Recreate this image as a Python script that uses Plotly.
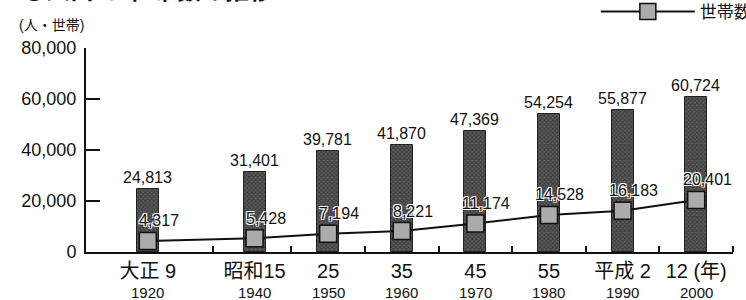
import plotly.graph_objects as go

# ---- data ----
years = [1920, 1940, 1950, 1960, 1970, 1980, 1990, 2000]
era_labels = ["大正 9", "昭和15", "25", "35", "45", "55", "平成 2", "12 (年)"]
population = [24813, 31401, 39781, 41870, 47369, 54254, 55877, 60724]
households = [4317, 5428, 7194, 8221, 11174, 14528, 16183, 20401]
y_ticks = [0, 20000, 40000, 60000, 80000]


def axis_pos(year):
    # the 1920-1940 gap is drawn compressed on the original chart
    return year if year >= 1940 else 1940 - (1940 - year) * 0.725


xpos = [axis_pos(y) for y in years]
FONT = "Liberation Sans, Arial, Noto Sans CJK JP, sans-serif"

fig = go.Figure()
fig.add_trace(go.Bar(
    x=xpos, y=population, width=3,
    marker=dict(color="#3c3c3c", line=dict(color="#222", width=1),
                pattern=dict(shape="x", fgcolor="#1c1c1c", bgcolor="#5c5c5c",
                             size=3, solidity=0.5)),
    text=[f"{v:,}" for v in population], textposition="outside",
    constraintext="none",
    textfont=dict(size=16, color="#111", family=FONT),
    cliponaxis=False, showlegend=False, hoverinfo="skip",
))
fig.add_trace(go.Scatter(
    x=xpos, y=households, mode="lines+markers", name="世帯数",
    line=dict(color="#111", width=2),
    marker=dict(symbol="square", size=17, color="#ababab",
                line=dict(color="#111", width=1.5)),
    cliponaxis=False, hoverinfo="skip",
))

for x, v in zip(xpos, households):
    fig.add_annotation(
        x=x, y=v, text=f"{v:,}", showarrow=False, xshift=11, yshift=20,
        font=dict(size=16, color="#111", family=FONT,
                  shadow="1px 1px 0 #fff, -1px -1px 0 #fff, 1px -1px 0 #fff, -1px 1px 0 #fff"),
    )

for x, y in zip(xpos, years):
    fig.add_annotation(
        x=x, xref="x", y=0, yref="paper", yanchor="middle", yshift=-40,
        text=str(y), showarrow=False,
        font=dict(size=15, color="#111", family=FONT),
    )

fig.update_layout(
    width=746, height=300,
    margin=dict(l=86, r=13, t=48, b=48, autoexpand=False),
    paper_bgcolor="white", plot_bgcolor="white",
    font=dict(family=FONT, color="#111"),
    bargap=0, hovermode=False,
    xaxis=dict(
        range=[1917.1, 2005], showgrid=False, zeroline=False,
        showline=True, linecolor="#111", linewidth=2,
        tickmode="array", tickvals=xpos, ticktext=era_labels, ticks="",
        tickfont=dict(size=20, color="#111"), ticklabelstandoff=0,
        minor=dict(tickmode="array", tickvals=[1934.3, 1945, 1955, 1965, 1975, 1985, 1995, 2005],
                   ticks="inside", ticklen=6, tickwidth=2, tickcolor="#111"),
    ),
    yaxis=dict(
        range=[0, 80000], showgrid=False, zeroline=False,
        showline=True, linecolor="#111", linewidth=2,
        tickmode="array", tickvals=y_ticks, ticktext=[f"{v:,}" for v in y_ticks],
        ticks="inside", ticklen=14, tickwidth=2, tickcolor="#111",
        tickfont=dict(size=18, color="#111"), ticklabelstandoff=4,
    ),
    legend=dict(orientation="h", x=0.788, xanchor="left", y=1 + 36 / 204, yanchor="middle",
                itemwidth=94, font=dict(size=17, color="#111"),
                bgcolor="rgba(0,0,0,0)"),
)

fig.add_annotation(xref="paper", yref="paper", x=-0.102, xanchor="left",
                   y=1 + 59 / 204, yanchor="middle", showarrow=False,
                   text="<b>●人口 と 世帯数の推移</b>",
                   font=dict(size=24, color="#111", family="Noto Sans CJK JP"))
fig.add_annotation(xref="paper", yref="paper", x=-0.107, xanchor="left",
                   y=1 + 23 / 204, yanchor="middle", showarrow=False,
                   text="(人・世帯)", font=dict(size=14, color="#111"))

fig.write_html("out.html", config={"displayModeBar": False},
               post_script="document.body.style.margin='0';")
